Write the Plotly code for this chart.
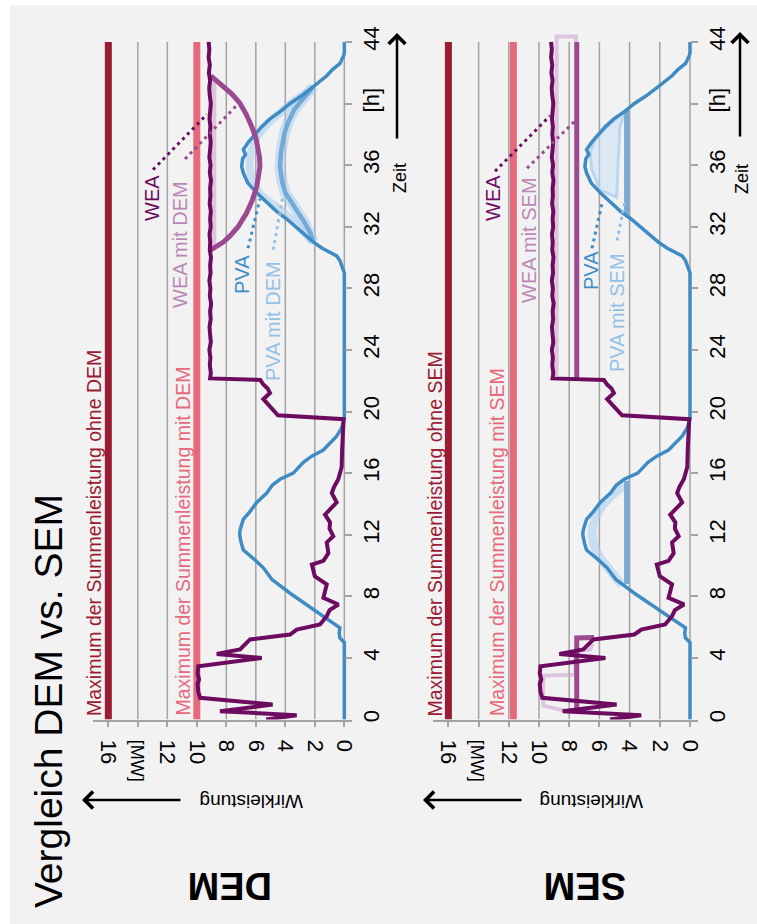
import plotly.graph_objects as go

# ---------------- data (time in h, power in MW) ----------------
wea_t = [0, 0.28, 0.54, 0.97, 1.41, 1.8, 2.3, 2.6, 3.0, 3.46, 4.0, 4.26, 4.55, 5.2, 5.52, 5.84,
         6.17, 6.71, 7.1, 7.47, 7.9, 8.3, 8.77, 9.3, 9.74, 10.06, 10.3, 10.8, 11.5, 11.9, 12.4,
         12.8, 13.3, 13.7, 14.1, 14.7, 15.1, 15.6, 16.4, 17.5, 19.0, 19.5, 19.75, 20.3, 20.8,
         21.2, 21.5, 21.75, 22.05, 22.15, 22.5, 23.0, 23.5, 24.0, 24.5, 25.0, 25.5, 26.0, 26.5,
         27.0, 27.5, 28.0, 28.5, 29.0, 29.5, 30.0, 30.5, 31.0, 31.5, 32.0, 32.5, 33.0, 33.5,
         34.0, 34.5, 35.0, 35.5, 36.0, 36.5, 37.0, 37.5, 38.0, 38.5, 39.0, 39.5, 40.0, 40.5,
         41.0, 41.5, 42.0, 42.5, 43.0, 43.5, 44.0]
wea_p = [5.3, 3.23, 8.43, 4.86, 9.78, 9.9, 9.95, 9.85, 9.95, 9.9, 5.6, 8.65, 7.07, 6.39, 3.68, 3.23,
         1.65, 1.19, 1.0, 0.4, 1.42, 1.3, 1.19, 2.0, 2.1, 2.2, 1.42, 1.08, 1.19, 0.75, 1.0,
         0.97, 1.31, 0.9, 0.52, 0.85, 0.7, 0.41, 0.18, 0.15, 0.07, 0.05, 4.5, 5.0, 5.49,
         5.04, 5.2, 5.49, 5.7, 9.1, 9.05, 9.12, 9.08, 9.15, 9.05, 9.1, 9.14, 9.06, 9.1,
         9.03, 9.12, 9.08, 9.15, 9.07, 9.1, 9.04, 9.12, 9.09, 9.14, 9.06, 9.1, 9.05, 9.13,
         9.08, 9.1, 9.04, 9.12, 9.07, 9.15, 9.1, 9.06, 9.12, 9.08, 9.14, 9.1, 9.05, 9.12,
         9.16, 9.1, 9.18, 9.12, 9.2, 9.15, 9.2]

pva_t = [0, 5.0, 5.3, 5.6, 5.95, 6.4, 6.8, 7.5, 8.2, 9.1, 9.85, 10.4, 11.0, 11.5, 12.0, 12.3,
         12.6, 13.0, 13.5, 14.1, 14.7, 15.2, 15.6, 16.0, 16.7, 17.1, 17.5, 18.0, 18.4, 18.9,
         19.3, 19.5, 29.0, 29.5, 29.8, 30.1, 30.6, 31.0, 31.5, 32.0, 32.5, 33.0, 33.6, 34.2,
         34.85, 35.5, 35.9, 36.4, 36.7, 37.0, 37.5, 38.0, 38.5, 39.0, 39.5, 40.0, 40.5, 41.1,
         41.5, 41.8, 42.2, 42.6, 43.1, 43.3, 44.0]
pva_p = [0, 0, 0.3, 0.35, 0.3, 0.97, 1.65, 2.6, 3.68, 4.92, 5.49, 6.1, 6.85, 7.0, 7.1, 7.07,
         6.95, 6.85, 6.4, 5.94, 5.26, 4.9, 4.36, 3.46, 2.78, 2.2, 1.42, 0.95, 0.52, 0.2,
         0.05, 0, 0, 0.15, 0.3, 0.52, 1.5, 2.1, 2.7, 3.3, 3.9, 4.6, 5.3, 5.94,
         6.55, 6.85, 6.96, 6.9, 6.7, 6.85, 6.5, 6.05, 5.6, 5.04, 4.3, 3.68, 2.9, 2.1,
         1.6, 1.19, 0.8, 0.29, 0.05, 0, 0]

# DEM
max_dem = [16, 10]
wea_dem_t = [30.5, 31.0, 31.4, 32.0, 32.9, 33.7, 34.6, 35.3, 35.9, 36.5, 37.0, 37.8, 38.5,
             39.3, 40.0, 40.6, 41.1, 41.5, 41.8]
wea_dem_p = [9.05, 8.2, 7.75, 7.2, 6.62, 6.25, 5.94, 5.78, 5.72, 5.75, 5.83, 6.0, 6.28,
             6.65, 7.07, 7.6, 8.2, 8.65, 9.05]
wea_dem_alt_t = [30.6, 41.6]
wea_dem_alt_p = [8.88, 8.88]
pva_dem_t = [31.0, 31.6, 32.2, 32.8, 33.5, 34.2, 34.85, 35.9, 36.8, 37.5, 38.1, 38.8, 39.6,
             40.3, 40.9, 41.1]
pva_dem_p = [2.1, 2.3, 2.65, 3.05, 3.6, 4.0, 4.2, 4.36, 4.3, 4.2, 4.05, 3.8, 3.4,
             2.8, 2.2, 2.1]
pva_dem_alt_t = [31.0, 32.0, 32.6, 33.5, 34.0, 34.85, 35.9, 36.8, 37.9, 38.75, 39.5, 40.2, 40.9]
pva_dem_alt_p = [2.1, 3.1, 3.68, 4.9, 5.6, 6.2, 6.45, 6.35, 5.9, 5.15, 4.3, 3.4, 2.2]

# SEM
max_sem = [16, 11.7]
wea_sem_t = [0.45, 5.3, 5.32, None, 22.1, 44.0]
wea_sem_p = [7.5, 7.5, 6.35, None, 7.5, 7.5]
wea_sem_alt_t = [0.5, 0.9, 1.5, 2.85, 2.9, 4.4, 4.55, 4.9, None, 22.3, 44.35, 44.35, 44.0]
wea_sem_alt_p = [8.0, 9.7, 9.75, 9.7, 7.6, 7.6, 6.6, 6.45, None, 8.83, 8.83, 7.55, 7.55]
pva_sem_t = [8.8, 15.5, None, 32.8, 39.6]
pva_sem_p = [4.2, 4.2, None, 4.2, 4.2]
pva_sem_alt_t = [8.7, 9.9, 10.5, 11.4, 12.26, 13.1, 14.0, 14.8, 15.2]
pva_sem_alt_p = [4.5, 5.5, 5.96, 6.4, 6.5, 6.3, 5.74, 4.9, 4.3]
pva_sem_area_t = [39.5, 38.65, 37.9, 36.8, 35.7, 34.4, 33.9, 36.4, 38.5, 39.5]
pva_sem_area_p = [4.3, 5.3, 6.18, 6.62, 6.51, 5.96, 4.85, 4.75, 4.64, 4.3]

time_ticks = [0, 4, 8, 12, 16, 20, 24, 28, 32, 36, 40, 44]
time_ticktext = ['0', '4', '8', '12', '16', '20', '24', '28', '32', '36', '[h]', '44']
power_ticks = [0, 2, 4, 6, 8, 10, 12, 14, 16]
power_ticktext = ['0', '2', '4', '6', '8', '10', '12',
                  '<span style="font-size:18px">[MW]</span>', '16']

# ---------------- styles ----------------
W, H = 757, 924
FONT = 'Liberation Sans, Arial, sans-serif'
C_DARKRED = '#9a1c33'
C_PINK = '#e66a7b'
C_WEA = '#6c0b60'
C_WEA_MIT = '#9b4a90'
C_WEA_ALT = 'rgba(205,160,205,0.55)'
C_PVA = '#3f8cc4'
C_PVA_MIT = 'rgba(105,163,211,0.9)'
C_PVA_ALT = 'rgba(175,208,240,0.6)'
C_GRID = '#a3a3a3'
L_WEA = '#6c0b60'
L_WEA_MIT = '#bb88b6'
L_PVA = '#3f8cc4'
L_PVA_MIT = '#93c0e6'


def px(x):
    return x / W


def py(y):
    return 1 - y / H


fig = go.Figure()


def line(xa, ya, x, y, color, width, fill=None, fillcolor=None):
    fig.add_trace(go.Scatter(x=x, y=y, mode='lines', xaxis=xa, yaxis=ya,
                             line=dict(color=color, width=width),
                             fill=fill, fillcolor=fillcolor,
                             hoverinfo='skip', showlegend=False))


# DEM panel (x/y)
for val, col in zip(max_dem, [C_DARKRED, C_PINK]):
    line('x', 'y', [val, val], [0, 44], col, 7)
line('x', 'y', wea_dem_alt_p, wea_dem_alt_t, C_WEA_ALT, 6)
line('x', 'y', pva_dem_alt_p, pva_dem_alt_t, C_PVA_ALT, 8)
line('x', 'y', pva_dem_p, pva_dem_t, C_PVA_ALT, 11)
line('x', 'y', pva_dem_p, pva_dem_t, C_PVA_MIT, 4.5)
line('x', 'y', pva_p, pva_t, C_PVA, 3.5)
line('x', 'y', wea_dem_p, wea_dem_t, C_WEA_MIT, 5)
line('x', 'y', wea_p, wea_t, C_WEA, 4)

# SEM panel (x2/y2)
for val, col in zip(max_sem, [C_DARKRED, C_PINK]):
    line('x2', 'y2', [val, val], [0, 44], col, 7)
line('x2', 'y2', wea_sem_alt_p, wea_sem_alt_t, C_WEA_ALT, 4)
line('x2', 'y2', pva_sem_alt_p, pva_sem_alt_t, C_PVA_ALT, 9)
line('x2', 'y2', pva_sem_area_p, pva_sem_area_t, 'rgba(175,208,240,0.8)', 3,
     fill='toself', fillcolor='rgba(205,225,245,0.6)')
line('x2', 'y2', pva_sem_p, pva_sem_t, C_PVA_MIT, 5)
line('x2', 'y2', pva_p, pva_t, C_PVA, 3.5)
line('x2', 'y2', wea_sem_p, wea_sem_t, C_WEA_MIT, 5)
line('x2', 'y2', wea_p, wea_t, C_WEA, 4)

# ---------------- axes ----------------
ydom = [py(719.5), py(719.5 - 15.4 * 44.6)]


def xaxis(domain, rng, anchor):
    return dict(domain=domain, range=rng, anchor=anchor, tickmode='array',
                tickvals=power_ticks, ticktext=power_ticktext, tickangle=90,
                ticks='outside', ticklen=6, tickwidth=1.5, tickcolor=C_GRID,
                showline=True, linecolor=C_GRID, linewidth=1.5, showgrid=False,
                zeroline=False, fixedrange=True, ticklabelstandoff=8,
                tickfont=dict(family=FONT, size=22, color='black'))


def yaxis(anchor):
    return dict(domain=ydom, range=[0, 44.6], anchor=anchor, side='right',
                tickmode='array', tickvals=time_ticks, ticktext=time_ticktext,
                tickangle=-90, ticks='inside', ticklen=7, tickwidth=1.5,
                tickcolor=C_GRID, showline=False, showgrid=False, zeroline=False,
                fixedrange=True, ticklabelstandoff=4,
                tickfont=dict(family=FONT, size=22, color='black'))


shapes = [dict(type='rect', xref='paper', yref='paper', x0=px(10), x1=1, y0=0, y1=py(5),
               fillcolor='#f2f2f2', line=dict(width=0), layer='below')]
for xr, yr in [('x', 'y'), ('x2', 'y2')]:
    for g in power_ticks:
        shapes.append(dict(type='line', xref=xr, yref=yr, x0=g, x1=g, y0=0, y1=44,
                           line=dict(color=C_GRID, width=1.5), layer='below'))

# leader lines (power, time)
leaders = [
    ('x', 'y', 12.97, 35.7, 9.31, 39.3, L_WEA),
    ('x', 'y', 10.8, 36.4, 6.87, 40.3, C_WEA_MIT),
    ('x', 'y', 6.53, 30.6, 5.72, 33.8, L_PVA),
    ('x', 'y', 4.83, 30.5, 4.16, 34.0, L_PVA_MIT),
    ('x2', 'y2', 12.91, 35.6, 9.27, 39.2, L_WEA),
    ('x2', 'y2', 10.79, 35.8, 7.48, 39.0, C_WEA_MIT),
    ('x2', 'y2', 6.49, 30.6, 5.83, 33.5, L_PVA),
    ('x2', 'y2', 4.83, 31.1, 4.3, 33.7, L_PVA_MIT),
]
for xr, yr, x0, y0, x1, y1, col in leaders:
    shapes.append(dict(type='line', xref=xr, yref=yr, x0=x0, y0=y0, x1=x1, y1=y1,
                       line=dict(color=col, width=3, dash='3px,4px'), layer='above'))

ann = []


def text(x, y, s, size, color='black', angle=-90, xa='center', ya='middle', bold=False):
    ann.append(dict(x=px(x), y=py(y), xref='paper', yref='paper', text=s,
                    showarrow=False, textangle=angle, xanchor=xa, yanchor=ya,
                    font=dict(family=FONT, size=size, color=color,
                              weight='bold' if bold else 'normal')))


def arrow(x_head, y_head, x_tail, y_tail):
    ann.append(dict(x=px(x_head), y=py(y_head), xref='paper', yref='paper', text='',
                    showarrow=True, ax=x_tail - x_head, ay=y_tail - y_head,
                    axref='pixel', ayref='pixel', arrowhead=4, arrowsize=1.3,
                    arrowwidth=2.5, arrowcolor='black', standoff=0, startstandoff=0))


text(48, 701, 'Vergleich DEM vs. SEM', 39)
text(230, 886, 'DEM', 38, angle=180, bold=True)
text(585, 886, 'SEM', 38, angle=180, bold=True)
text(252, 802, 'Wirkleistung', 19, angle=180)
text(592, 802, 'Wirkleistung', 19, angle=180)
arrow(82, 800, 182, 800)
arrow(423, 800, 523, 800)
text(400, 178, 'Zeit', 18)
text(742, 179, 'Zeit', 18)
arrow(397, 33, 397, 140)
arrow(740, 32, 740, 138)

text(94, 718, 'Maximum der Summenleistung ohne DEM', 19.5, C_DARKRED, ya='bottom')
text(182, 718, 'Maximum der Summenleistung mit DEM', 19.5, C_PINK, ya='bottom')
text(434, 718, 'Maximum der Summenleistung ohne SEM', 19.5, C_DARKRED, ya='bottom')
text(497, 718, 'Maximum der Summenleistung mit SEM', 19.5, C_PINK, ya='bottom')

text(152, 198, 'WEA', 20, L_WEA)
text(180, 245, 'WEA mit DEM', 20, L_WEA_MIT)
text(242, 275, 'PVA', 20, L_PVA)
text(273, 321, 'PVA mit DEM', 20, L_PVA_MIT)
text(493, 198, 'WEA', 20, L_WEA)
text(529, 240, 'WEA mit SEM', 20, L_WEA_MIT)
text(591, 271, 'PVA', 20, L_PVA)
text(617, 313, 'PVA mit SEM', 20, L_PVA_MIT)

fig.update_layout(
    width=W, height=H, margin=dict(l=0, r=0, t=0, b=0, autoexpand=False),
    paper_bgcolor='white', plot_bgcolor='rgba(0,0,0,0)', showlegend=False,
    font=dict(family=FONT),
    xaxis=xaxis([px(93), px(351.7)], [17.04, -0.5], 'y'),
    yaxis=yaxis('x'),
    xaxis2=xaxis([px(433.3), px(698.3)], [17.0, -0.55], 'y2'),
    yaxis2=yaxis('x2'),
    shapes=shapes, annotations=ann,
)

fig.write_html('out.html', config={'displayModeBar': False},
               post_script="document.body.style.margin='0';document.body.style.overflow='hidden';")
